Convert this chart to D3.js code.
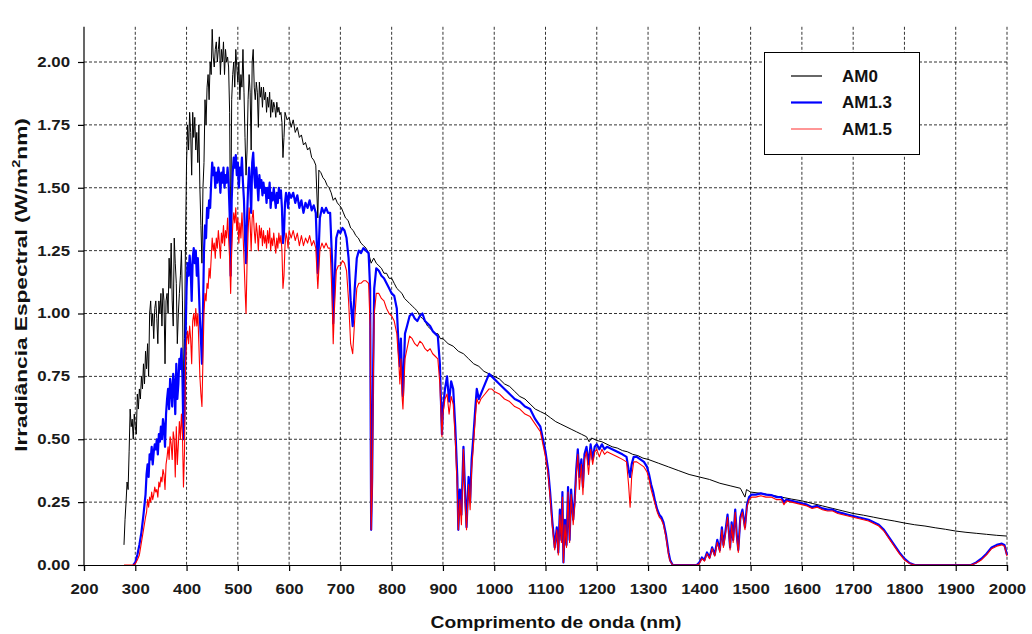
<!DOCTYPE html>
<html><head><meta charset="utf-8">
<script src="https://cdn.jsdelivr.net/npm/d3@7"></script>
<style>
body{margin:0;background:#fff;}
text{font-family:"Liberation Sans",Arial,sans-serif;font-weight:bold;}
</style></head>
<body><svg id="c" width="1032" height="634"></svg>
<script>
const xTicks = d3.range(200, 2001, 100);
const yTicks = [0, 0.25, 0.5, 0.75, 1.0, 1.25, 1.5, 1.75, 2.0];
const seriesNames = ["AM0", "AM1.3", "AM1.5"];
const xTitle = "Comprimento de onda (nm)";

const am0 = [[278,0.08],[280,0.18],[282,0.25],[284,0.33],[286,0.30],[288,0.45],[290,0.62],[292,0.55],[294,0.58],[296,0.50],[298,0.60],[300,0.55],[302,0.52],[304,0.68],[306,0.62],[308,0.70],[310,0.66],[312,0.75],[314,0.70],[316,0.80],[318,0.72],[320,0.85],[322,0.78],[324,0.88],[326,0.75],[328,1.00],[330,1.05],[332,0.95],[334,1.00],[336,0.90],[338,1.02],[340,1.05],[342,0.98],[344,0.88],[346,1.05],[348,1.00],[350,1.08],[352,0.95],[354,1.10],[356,1.05],[358,0.80],[360,1.05],[362,1.08],[364,1.00],[366,1.22],[368,1.10],[370,1.28],[372,1.05],[374,0.95],[376,1.30],[378,1.20],[380,1.12],[382,0.88],[384,1.00],[386,1.08],[388,1.15],[390,1.25],[392,1.05],[394,0.70],[396,0.90],[398,1.30],[400,1.60],[402,1.75],[404,1.65],[406,1.80],[408,1.72],[410,1.55],[412,1.80],[414,1.70],[416,1.78],[418,1.65],[420,1.72],[422,1.60],[424,1.75],[426,1.50],[428,1.35],[430,1.20],[432,1.50],[434,1.60],[436,1.85],[438,1.75],[440,1.90],[442,1.95],[444,1.85],[446,2.00],[448,1.95],[450,2.13],[452,2.02],[454,1.98],[456,2.05],[458,2.08],[460,2.00],[462,2.05],[464,2.10],[466,1.95],[468,2.05],[470,2.00],[472,2.08],[474,1.95],[476,2.05],[478,2.00],[480,2.02],[482,1.98],[484,1.80],[486,1.25],[488,1.85],[490,1.95],[492,2.00],[494,1.90],[496,2.05],[498,1.98],[500,1.92],[502,2.00],[504,1.85],[506,1.95],[508,1.90],[510,2.05],[512,1.88],[514,1.70],[516,1.55],[518,1.65],[520,1.85],[522,1.95],[524,1.88],[526,1.65],[528,2.00],[530,2.05],[532,1.90],[534,1.85],[536,1.92],[538,1.88],[540,1.74],[542,1.92],[544,1.86],[546,1.90],[548,1.82],[550,1.90],[552,1.85],[554,1.88],[556,1.80],[558,1.86],[560,1.82],[562,1.88],[564,1.78],[566,1.85],[568,1.80],[570,1.84],[572,1.82],[574,1.78],[576,1.84],[578,1.80],[580,1.82],[582,1.79],[584,1.80],[586,1.76],[588,1.62],[590,1.70],[592,1.80],[596,1.77],[600,1.78],[604,1.74],[608,1.77],[612,1.72],[616,1.74],[620,1.70],[624,1.71],[628,1.67],[632,1.68],[636,1.65],[640,1.66],[644,1.62],[648,1.61],[652,1.59],[656,1.38],[658,1.57],[662,1.56],[666,1.54],[670,1.53],[674,1.51],[678,1.50],[682,1.48],[686,1.45],[690,1.46],[694,1.44],[698,1.43],[702,1.42],[706,1.40],[710,1.38],[715,1.37],[720,1.34],[725,1.33],[730,1.31],[735,1.30],[740,1.28],[745,1.27],[750,1.26],[755,1.24],[760,1.20],[765,1.22],[770,1.20],[775,1.19],[780,1.18],[785,1.16],[790,1.16],[795,1.14],[800,1.14],[805,1.12],[810,1.10],[815,1.09],[820,1.08],[825,1.06],[830,1.05],[835,1.04],[840,1.03],[845,1.02],[850,1.01],[855,0.99],[860,0.98],[865,0.97],[870,0.95],[875,0.94],[880,0.93],[885,0.92],[890,0.92],[895,0.90],[900,0.90],[910,0.88],[920,0.87],[930,0.85],[940,0.84],[950,0.82],[960,0.80],[970,0.79],[980,0.77],[990,0.76],[1000,0.75],[1010,0.74],[1020,0.72],[1030,0.71],[1040,0.69],[1050,0.67],[1060,0.66],[1070,0.64],[1080,0.62],[1090,0.61],[1100,0.60],[1110,0.585],[1120,0.57],[1130,0.56],[1140,0.55],[1150,0.54],[1160,0.53],[1170,0.52],[1180,0.51],[1185,0.49],[1190,0.505],[1200,0.495],[1210,0.49],[1220,0.48],[1230,0.47],[1240,0.465],[1250,0.455],[1260,0.45],[1270,0.44],[1280,0.435],[1290,0.425],[1300,0.42],[1320,0.405],[1340,0.39],[1360,0.375],[1380,0.36],[1400,0.35],[1420,0.34],[1440,0.325],[1460,0.315],[1480,0.305],[1489,0.27],[1492,0.30],[1500,0.29],[1520,0.285],[1540,0.278],[1560,0.27],[1580,0.262],[1600,0.255],[1620,0.245],[1640,0.235],[1660,0.225],[1680,0.215],[1700,0.205],[1720,0.198],[1740,0.19],[1760,0.182],[1780,0.175],[1800,0.167],[1820,0.16],[1840,0.155],[1860,0.148],[1880,0.142],[1900,0.135],[1920,0.13],[1940,0.126],[1960,0.122],[1980,0.118],[2000,0.115]];

const am13 = [[296,0],[300,0.01],[304,0.04],[308,0.08],[312,0.13],[316,0.20],[320,0.28],[322,0.36],[324,0.40],[326,0.35],[328,0.44],[330,0.42],[332,0.47],[334,0.40],[336,0.45],[338,0.48],[340,0.46],[342,0.50],[344,0.44],[346,0.52],[348,0.49],[350,0.55],[352,0.50],[354,0.58],[356,0.55],[358,0.47],[360,0.60],[362,0.66],[364,0.70],[366,0.62],[368,0.74],[370,0.70],[372,0.63],[374,0.76],[376,0.72],[378,0.60],[380,0.80],[382,0.66],[384,0.72],[386,0.82],[388,0.78],[390,0.86],[392,0.75],[394,0.50],[396,0.60],[398,0.90],[400,1.10],[402,1.20],[404,1.15],[406,1.23],[408,1.18],[410,1.05],[412,1.22],[414,1.26],[416,1.20],[418,1.25],[420,1.15],[422,1.22],[424,1.10],[426,0.98],[428,0.90],[430,0.80],[432,1.00],[434,1.25],[436,1.35],[438,1.30],[440,1.42],[442,1.38],[444,1.45],[446,1.42],[448,1.52],[450,1.60],[452,1.55],[454,1.58],[456,1.50],[458,1.56],[460,1.52],[462,1.58],[464,1.55],[466,1.48],[468,1.56],[470,1.52],[472,1.58],[474,1.50],[476,1.55],[478,1.52],[480,1.58],[482,1.52],[484,1.40],[486,1.15],[488,1.45],[490,1.56],[492,1.62],[494,1.58],[496,1.63],[498,1.55],[500,1.60],[502,1.50],[504,1.58],[506,1.55],[508,1.62],[510,1.52],[512,1.45],[514,1.30],[516,1.20],[518,1.38],[520,1.50],[522,1.58],[524,1.52],[526,1.40],[528,1.60],[530,1.64],[532,1.55],[534,1.50],[536,1.58],[538,1.52],[540,1.45],[542,1.55],[544,1.50],[546,1.53],[548,1.47],[550,1.52],[552,1.48],[554,1.50],[556,1.44],[558,1.50],[560,1.46],[562,1.52],[564,1.42],[566,1.48],[568,1.45],[570,1.50],[572,1.46],[574,1.42],[576,1.48],[578,1.44],[580,1.50],[582,1.46],[584,1.49],[586,1.42],[588,1.28],[590,1.32],[592,1.44],[594,1.48],[596,1.46],[598,1.42],[600,1.48],[604,1.46],[608,1.48],[612,1.44],[616,1.47],[620,1.42],[624,1.45],[628,1.40],[632,1.44],[636,1.42],[640,1.45],[644,1.41],[648,1.43],[652,1.40],[656,1.16],[660,1.38],[664,1.42],[668,1.40],[672,1.42],[676,1.40],[680,1.40],[684,1.20],[686,0.96],[688,1.10],[692,1.30],[696,1.33],[700,1.32],[704,1.34],[708,1.33],[712,1.30],[716,1.22],[720,1.05],[724,0.95],[728,1.10],[732,1.22],[736,1.25],[740,1.24],[745,1.26],[750,1.25],[755,1.24],[758,1.10],[760,0.14],[762,0.35],[764,0.80],[766,1.10],[770,1.18],[775,1.17],[780,1.15],[785,1.14],[790,1.12],[795,1.10],[800,1.08],[805,1.07],[810,1.02],[814,0.85],[816,0.79],[818,0.90],[820,0.75],[822,0.67],[824,0.80],[826,0.92],[830,0.95],[835,0.99],[840,1.00],[845,0.98],[850,0.97],[855,0.99],[860,1.00],[865,0.97],[870,0.96],[875,0.95],[880,0.93],[885,0.92],[890,0.91],[894,0.80],[898,0.52],[900,0.62],[904,0.70],[908,0.75],[912,0.65],[916,0.73],[920,0.70],[924,0.55],[928,0.35],[930,0.14],[933,0.30],[936,0.20],[940,0.47],[943,0.30],[946,0.15],[950,0.35],[953,0.25],[956,0.42],[959,0.50],[963,0.62],[966,0.70],[970,0.66],[974,0.68],[978,0.70],[982,0.72],[986,0.74],[990,0.76],[995,0.75],[1000,0.74],[1010,0.72],[1020,0.70],[1030,0.68],[1040,0.66],[1050,0.65],[1060,0.63],[1070,0.62],[1080,0.58],[1090,0.55],[1095,0.50],[1100,0.45],[1105,0.38],[1109,0.29],[1113,0.18],[1118,0.07],[1122,0.15],[1125,0.05],[1128,0.22],[1131,0.10],[1133,0.29],[1135,0.01],[1138,0.18],[1141,0.08],[1144,0.31],[1147,0.10],[1150,0.30],[1154,0.18],[1157,0.26],[1160,0.38],[1163,0.46],[1166,0.35],[1170,0.42],[1173,0.31],[1176,0.44],[1180,0.47],[1184,0.40],[1188,0.48],[1192,0.42],[1196,0.47],[1200,0.48],[1205,0.46],[1210,0.48],[1215,0.46],[1220,0.47],[1230,0.46],[1240,0.45],[1250,0.44],[1258,0.43],[1262,0.38],[1265,0.35],[1268,0.40],[1272,0.43],[1278,0.43],[1285,0.42],[1292,0.41],[1298,0.39],[1302,0.36],[1306,0.32],[1310,0.29],[1314,0.25],[1318,0.22],[1322,0.20],[1326,0.19],[1330,0.17],[1335,0.12],[1340,0.05],[1343,0.02],[1348,0],[1395,0],[1400,0.01],[1405,0.03],[1410,0.02],[1415,0.05],[1420,0.03],[1425,0.07],[1430,0.04],[1435,0.10],[1440,0.06],[1444,0.15],[1447,0.08],[1450,0.12],[1455,0.20],[1460,0.07],[1463,0.17],[1466,0.10],[1470,0.22],[1473,0.12],[1476,0.06],[1480,0.19],[1484,0.22],[1489,0.15],[1493,0.24],[1497,0.27],[1502,0.28],[1510,0.28],[1520,0.285],[1530,0.28],[1540,0.278],[1550,0.27],[1560,0.27],[1565,0.25],[1570,0.26],[1580,0.255],[1590,0.25],[1600,0.245],[1610,0.24],[1620,0.23],[1630,0.235],[1640,0.225],[1650,0.22],[1660,0.22],[1670,0.21],[1680,0.205],[1690,0.20],[1700,0.195],[1710,0.19],[1720,0.185],[1730,0.18],[1740,0.17],[1750,0.16],[1760,0.14],[1770,0.11],[1780,0.08],[1790,0.05],[1800,0.025],[1810,0.008],[1820,0],[1930,0],[1940,0.01],[1950,0.025],[1960,0.045],[1970,0.07],[1980,0.08],[1990,0.085],[1995,0.08],[2000,0.04]];

const am15 = [[278,0],[290,0],[296,0],[300,0.005],[304,0.02],[308,0.04],[312,0.09],[316,0.14],[320,0.19],[322,0.21],[324,0.26],[326,0.23],[328,0.27],[330,0.25],[332,0.29],[334,0.26],[336,0.28],[338,0.31],[340,0.29],[342,0.30],[344,0.27],[346,0.33],[348,0.31],[350,0.35],[352,0.33],[354,0.38],[356,0.36],[358,0.30],[360,0.40],[362,0.43],[364,0.47],[366,0.42],[368,0.51],[370,0.48],[372,0.42],[374,0.53],[376,0.50],[378,0.35],[380,0.55],[382,0.40],[384,0.48],[386,0.57],[388,0.50],[390,0.60],[392,0.52],[394,0.31],[396,0.45],[398,0.80],[400,0.89],[402,0.93],[404,0.88],[406,0.95],[408,0.90],[410,0.80],[412,0.97],[414,1.00],[416,0.95],[418,1.02],[420,0.95],[422,1.00],[424,0.88],[426,0.75],[428,0.68],[430,0.63],[432,0.82],[434,1.00],[436,1.08],[438,1.05],[440,1.12],[442,1.10],[444,1.18],[446,1.14],[448,1.22],[450,1.30],[452,1.25],[454,1.28],[456,1.22],[458,1.30],[460,1.26],[462,1.33],[464,1.28],[466,1.22],[468,1.32],[470,1.28],[472,1.35],[474,1.27],[476,1.33],[478,1.30],[480,1.38],[482,1.30],[484,1.22],[486,1.08],[488,1.25],[490,1.35],[492,1.40],[494,1.36],[496,1.42],[498,1.33],[500,1.38],[502,1.28],[504,1.36],[506,1.30],[508,1.40],[510,1.32],[512,1.22],[514,1.10],[516,1.00],[518,1.20],[520,1.32],[522,1.42],[524,1.36],[526,1.25],[528,1.38],[530,1.41],[532,1.33],[534,1.28],[536,1.36],[538,1.32],[540,1.25],[542,1.35],[544,1.30],[546,1.34],[548,1.27],[550,1.33],[552,1.28],[554,1.31],[556,1.26],[558,1.33],[560,1.28],[562,1.34],[564,1.25],[566,1.30],[568,1.27],[570,1.32],[572,1.28],[574,1.24],[576,1.30],[578,1.26],[580,1.32],[582,1.28],[584,1.31],[586,1.25],[588,1.10],[590,1.15],[592,1.27],[594,1.32],[596,1.30],[598,1.26],[600,1.33],[604,1.30],[608,1.33],[612,1.29],[616,1.32],[620,1.27],[624,1.31],[628,1.27],[632,1.30],[636,1.28],[640,1.31],[644,1.27],[648,1.29],[652,1.26],[656,1.10],[660,1.25],[664,1.28],[668,1.26],[672,1.28],[676,1.26],[680,1.26],[684,1.05],[686,0.88],[688,1.00],[692,1.17],[696,1.19],[700,1.19],[704,1.21],[708,1.20],[712,1.17],[716,1.05],[720,0.88],[724,0.84],[728,0.98],[732,1.10],[736,1.12],[740,1.12],[745,1.13],[750,1.13],[755,1.12],[758,0.95],[760,0.14],[762,0.30],[764,0.70],[766,1.00],[770,1.08],[775,1.08],[780,1.06],[785,1.05],[790,1.02],[795,1.00],[800,0.99],[805,0.97],[810,0.92],[814,0.80],[816,0.72],[818,0.82],[820,0.68],[822,0.62],[824,0.72],[826,0.82],[830,0.86],[835,0.91],[840,0.90],[845,0.88],[850,0.87],[855,0.89],[860,0.88],[865,0.86],[870,0.85],[875,0.86],[880,0.84],[885,0.83],[890,0.82],[894,0.72],[898,0.51],[900,0.60],[904,0.66],[908,0.68],[912,0.60],[916,0.67],[920,0.64],[924,0.50],[928,0.30],[930,0.14],[933,0.26],[936,0.16],[940,0.46],[943,0.25],[946,0.14],[950,0.32],[953,0.22],[956,0.38],[959,0.46],[963,0.58],[966,0.66],[970,0.64],[974,0.66],[978,0.67],[982,0.68],[986,0.69],[990,0.70],[995,0.70],[1000,0.69],[1010,0.68],[1020,0.66],[1030,0.65],[1040,0.63],[1050,0.62],[1060,0.60],[1070,0.59],[1080,0.56],[1090,0.53],[1095,0.48],[1100,0.43],[1105,0.36],[1109,0.27],[1113,0.16],[1118,0.06],[1122,0.14],[1125,0.04],[1128,0.20],[1131,0.09],[1133,0.27],[1135,0.01],[1138,0.16],[1141,0.07],[1144,0.29],[1147,0.09],[1150,0.28],[1154,0.16],[1157,0.24],[1160,0.36],[1163,0.44],[1166,0.30],[1170,0.40],[1173,0.28],[1176,0.42],[1180,0.45],[1184,0.36],[1188,0.46],[1192,0.40],[1196,0.45],[1200,0.46],[1205,0.43],[1210,0.46],[1215,0.44],[1220,0.45],[1230,0.44],[1240,0.43],[1250,0.42],[1258,0.41],[1262,0.32],[1265,0.23],[1268,0.35],[1272,0.41],[1278,0.41],[1285,0.40],[1292,0.39],[1298,0.37],[1302,0.34],[1306,0.30],[1310,0.27],[1314,0.24],[1318,0.21],[1322,0.19],[1326,0.18],[1330,0.16],[1335,0.11],[1340,0.04],[1343,0.015],[1348,0],[1395,0],[1400,0.005],[1405,0.025],[1410,0.015],[1415,0.045],[1420,0.025],[1425,0.065],[1430,0.035],[1435,0.09],[1440,0.05],[1444,0.14],[1447,0.07],[1450,0.11],[1455,0.19],[1460,0.06],[1463,0.16],[1466,0.09],[1470,0.21],[1473,0.11],[1476,0.05],[1480,0.18],[1484,0.21],[1489,0.14],[1493,0.23],[1497,0.26],[1502,0.27],[1510,0.27],[1520,0.275],[1530,0.27],[1540,0.27],[1550,0.26],[1560,0.26],[1565,0.24],[1570,0.255],[1580,0.25],[1590,0.245],[1600,0.24],[1610,0.235],[1620,0.225],[1630,0.23],[1640,0.22],[1650,0.215],[1660,0.215],[1670,0.205],[1680,0.20],[1690,0.195],[1700,0.19],[1710,0.185],[1720,0.18],[1730,0.175],[1740,0.165],[1750,0.155],[1760,0.135],[1770,0.105],[1780,0.075],[1790,0.045],[1800,0.02],[1810,0.006],[1820,0],[1930,0],[1940,0.008],[1950,0.02],[1960,0.04],[1970,0.065],[1980,0.075],[1990,0.08],[1995,0.075],[2000,0.035]];

const colors = ["#000000", "#0000ff", "#ff0000"];
const widths = [1, 2.2, 1.1];
const legendColors = ["#000000", "#0000ff", "#ff5050"];

const svg = d3.select("#c");
const L = 84, R = 1007, B = 565;
const x = d3.scaleLinear().domain([200, 2000]).range([L, R]);
const y = d3.scaleLinear().domain([0, 2]).range([B, 62]);
const yTop = y(2.14);

function stretch(sel, k) {
  sel.each(function () {
    const w = this.getComputedTextLength();
    d3.select(this).attr("textLength", w * k).attr("lengthAdjust", "spacingAndGlyphs");
  });
}

// grid
const g = svg.append("g");
g.selectAll(".vg").data(xTicks.slice(1)).join("line")
  .attr("x1", d => x(d)).attr("x2", d => x(d)).attr("y1", yTop).attr("y2", B)
  .attr("stroke", "#000").attr("stroke-width", 0.8).attr("stroke-dasharray", "3,2");
g.selectAll(".hg").data(yTicks.slice(1)).join("line")
  .attr("x1", L).attr("x2", R).attr("y1", d => y(d)).attr("y2", d => y(d))
  .attr("stroke", "#000").attr("stroke-width", 0.8).attr("stroke-dasharray", "3,2");

// lines
const line = d3.line().x(d => x(d[0])).y(d => y(d[1]));
[am0, am13, am15].forEach((s, i) => {
  svg.append("path").datum(s).attr("d", line).attr("fill", "none")
    .attr("stroke", colors[i]).attr("stroke-width", widths[i]).attr("stroke-linejoin", "round");
});

// axes
const xAxis = svg.append("g").attr("transform", `translate(0,${B})`)
  .call(d3.axisBottom(x).tickValues(xTicks).tickFormat(d3.format("d")).tickSize(6).tickPadding(13));
const yAxis = svg.append("g").attr("transform", `translate(${L},0)`)
  .call(d3.axisLeft(y).tickValues(yTicks).tickFormat(d3.format(".2f")).tickSize(6).tickPadding(8));
yAxis.select(".domain").attr("d", `M-0,${B}V${yTop}`);
[xAxis, yAxis].forEach(a => {
  a.selectAll("path,line").attr("stroke", "#000").attr("stroke-width", 1.2);
  a.selectAll("text").attr("fill", "#1a1a1a").style("font-size", "14px").style("font-family", "'Liberation Sans',Arial,sans-serif").style("font-weight", "bold");
  stretch(a.selectAll("text"), 1.2);
});

// titles
svg.append("text").attr("x", 556).attr("y", 628).attr("text-anchor", "middle")
  .style("font-size", "17px").attr("fill", "#111").attr("textLength", 251).attr("lengthAdjust", "spacingAndGlyphs").text(xTitle);
const ytg = svg.append("g");
const yt = ytg.append("text").attr("text-anchor", "middle")
  .style("font-size", "17px").attr("fill", "#111");
yt.append("tspan").text("Irradiância Espectral (W/m");
yt.append("tspan").attr("dy", -7).style("font-size", "11px").text("2");
yt.append("tspan").attr("dy", 7).text("nm)");
const bw = yt.node().getBBox().width;
ytg.attr("transform", `translate(27,285) rotate(-90) scale(${334 / bw},1)`);

// legend
const lg = svg.append("g");
lg.append("rect").attr("x", 764.5).attr("y", 52.5).attr("width", 155).attr("height", 102)
  .attr("fill", "#fff").attr("stroke", "#000").attr("stroke-width", 1);
seriesNames.forEach((n, i) => {
  const yy = 76 + i * 26.5;
  lg.append("line").attr("x1", 791).attr("x2", 822).attr("y1", yy).attr("y2", yy)
    .attr("stroke", legendColors[i]).attr("stroke-width", i === 1 ? 2.2 : 1.2);
  const t = lg.append("text").attr("x", 842).attr("y", yy + 5.5).style("font-size", "16px").attr("fill", "#111").text(n);
  stretch(t, 1.06);
});
</script></body></html>
